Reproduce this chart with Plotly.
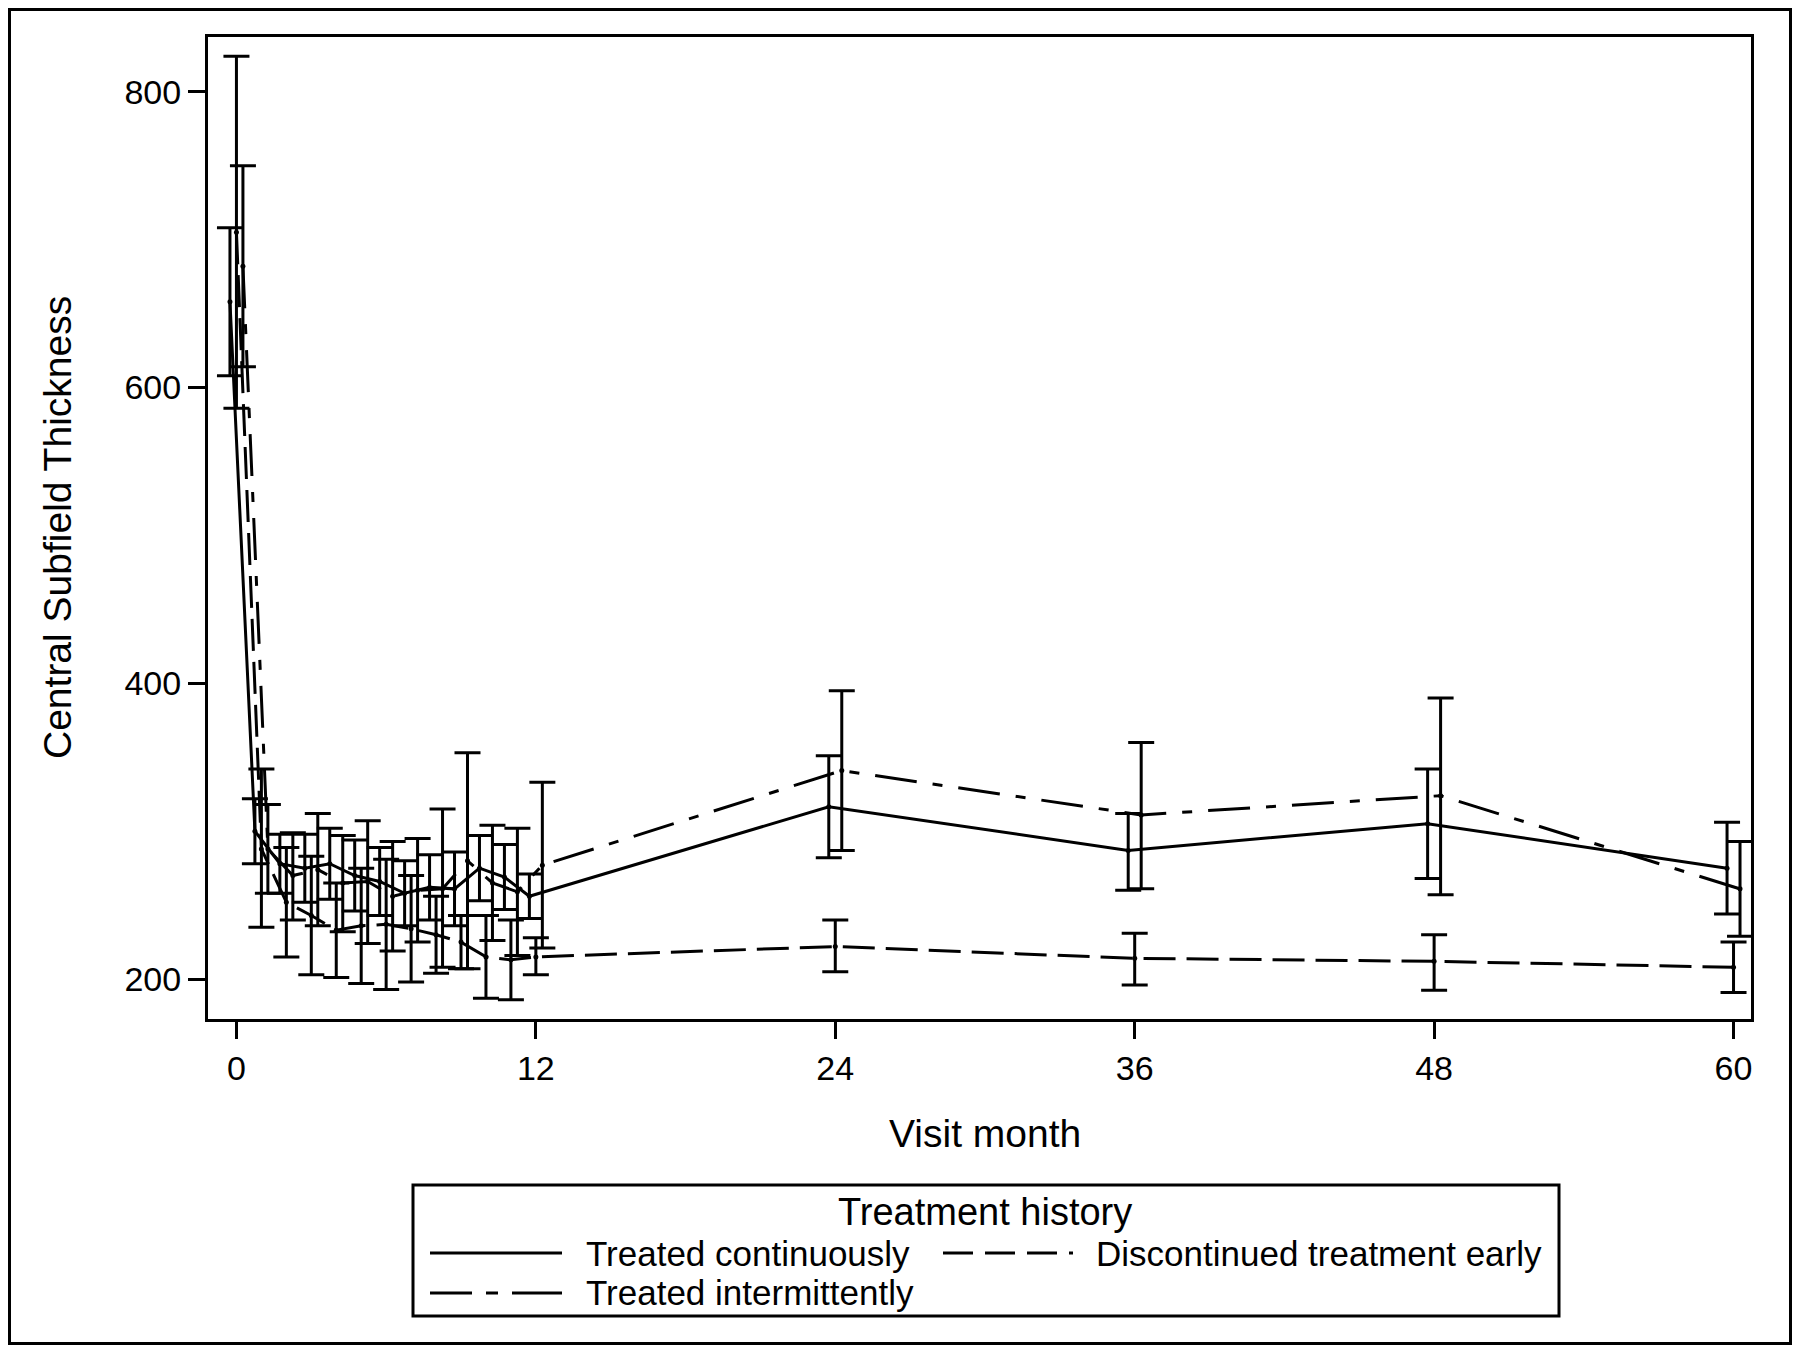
import numpy as np
import plotly.graph_objects as go

# ---------------- data ----------------
months = [0, 1, 2, 3, 4, 5, 6, 7, 8, 9, 10, 11, 12, 24, 36, 48, 60]

cont_mean = [658, 300, 278, 275, 278, 270, 266, 258, 262, 261, 275, 269, 256, 316.5, 287, 305, 275]
cont_lo   = [608, 278, 258, 252, 254, 246, 243, 236, 240, 236, 253, 247, 241, 282, 260, 268, 244]
cont_hi   = [708, 322, 298, 298, 302, 294, 289, 280, 284, 286, 297, 291, 271, 351, 312, 342, 306]

inter_mean = [682, 288, 270, 274, 265, 266, 256, 260, 261, 280, 265, 259, 277, 341, 311, 324, 261]
inter_lo   = [614, 258, 240, 236, 232, 224, 219, 225, 208, 207, 226, 216, 221, 287, 261, 257, 229]
inter_hi   = [750, 318, 299, 312, 297, 307, 293, 295, 315, 353, 304, 302, 333, 395, 360, 390, 293]

disc_mean = [705, 288, 252, 243, 233, 236, 237, 234, 230, 225, 215, 213, 215, 222, 214, 212, 208]
disc_lo   = [586, 235, 215, 203, 201, 197, 193, 198, 204, 207, 187, 186, 203, 205, 196, 192.5, 191]
disc_hi   = [824, 342, 289, 283, 265, 275, 281, 270, 256, 243, 243, 240, 228, 240, 231, 230, 225]

names = ["Treated continuously", "Discontinued treatment early", "Treated intermittently"]
x_ticks = [0, 12, 24, 36, 48, 60]
y_ticks = [200, 400, 600, 800]

# ---------------- styles ----------------
FONT = "Liberation Sans, Arial, Helvetica, sans-serif"
DASH_CONT = "solid"
DASH_DISC = "32px,11px"
DASH_INTER = "42px,16px,10px,16px"
LEG_DASH_DISC = "30px,12px,30px,12px,30px,12px,4px,12px"
LEG_DASH_INTER = "42px,14px,12px,14px,60px"

fig = go.Figure()

def add_series(mean, lo, hi, name, dash, offset):
    m = np.array(mean, dtype=float)
    x = np.array(months, dtype=float) + offset
    fig.add_trace(go.Scatter(
        x=x, y=m, name=name, mode="lines+markers",
        line=dict(color="black", width=3, dash=dash),
        marker=dict(color="black", size=5),
        error_y=dict(type="data", symmetric=False,
                     array=np.array(hi) - m, arrayminus=m - np.array(lo),
                     color="black", thickness=3, width=13),
        showlegend=False,
    ))

add_series(cont_mean, cont_lo, cont_hi, names[0], DASH_CONT, -0.26)
add_series(disc_mean, disc_lo, disc_hi, names[1], DASH_DISC, 0.0)
add_series(inter_mean, inter_lo, inter_hi, names[2], DASH_INTER, 0.26)

# page body has an 8px default margin; work in screen coords and shift
OFF = 8
W, H = 1800 - 2 * OFF, 1353 - 2 * OFF
# plot area in screen coords: left 208, right 1751, top 37, bottom 1019
L = 208 - OFF
T = 37 - OFF
R = W - (1751 - OFF)
B = H - (1019 - OFF)
pw, ph = W - L - R, H - T - B

def px(xs):
    return (xs - OFF - L) / pw

def py(ys):
    return (H - B - (ys - OFF)) / ph

shapes = []
# outer border
shapes.append(dict(type="rect", xref="paper", yref="paper",
                   x0=px(OFF + 1.5), x1=px(OFF + W - 1.5), y0=py(OFF + H - 1.5), y1=py(OFF + 1.5),
                   line=dict(color="black", width=3)))
# legend box
shapes.append(dict(type="rect", xref="paper", yref="paper",
                   x0=px(413), x1=px(1559), y0=py(1316), y1=py(1185),
                   line=dict(color="black", width=3), fillcolor="white"))

annotations = []
annotations.append(dict(text="Treatment history", xref="paper", yref="paper",
                        x=px(985), y=py(1212), showarrow=False,
                        xanchor="center", yanchor="middle",
                        font=dict(family=FONT, size=38, color="black")))

legend_items = [
    (names[0], DASH_CONT, 430, 562, 584, 1253),
    (names[1], LEG_DASH_DISC, 943, 1073, 1094, 1253),
    (names[2], LEG_DASH_INTER, 430, 562, 584, 1293),
]
for label, dash, lx0, lx1, tx, ly in legend_items:
    shapes.append(dict(type="line", xref="paper", yref="paper",
                       x0=px(lx0), x1=px(lx1), y0=py(ly), y1=py(ly),
                       line=dict(color="black", width=3, dash=dash)))
    annotations.append(dict(text=label, xref="paper", yref="paper",
                            x=px(tx), y=py(ly), showarrow=False,
                            xanchor="left", yanchor="middle",
                            font=dict(family=FONT, size=35, color="black")))

# axis titles
annotations.append(dict(text="Visit month", xref="paper", yref="paper",
                        x=px(985), y=py(1133), showarrow=False,
                        xanchor="center", yanchor="middle",
                        font=dict(family=FONT, size=39, color="black")))
annotations.append(dict(text="Central Subfield Thickness", xref="paper", yref="paper",
                        x=px(57), y=py(528), showarrow=False, textangle=-90,
                        xanchor="center", yanchor="middle",
                        font=dict(family=FONT, size=39, color="black")))

fig.update_layout(
    width=W, height=H,
    margin=dict(l=L, r=R, t=T, b=B, pad=0),
    paper_bgcolor="white", plot_bgcolor="white",
    font=dict(family=FONT, color="black"),
    shapes=shapes, annotations=annotations,
    showlegend=False,
)
fig.update_xaxes(range=[-1.14, 60.7], tickvals=x_ticks, ticktext=[str(v) for v in x_ticks],
                 ticks="outside", ticklen=17, tickwidth=2.5, tickcolor="black",
                 showline=True, linecolor="black", linewidth=3, mirror=True,
                 showgrid=False, zeroline=False,
                 tickfont=dict(family=FONT, size=34, color="black"))
fig.update_yaxes(range=[173, 837], tickvals=y_ticks, ticktext=[str(v) for v in y_ticks],
                 ticks="outside", ticklen=17, tickwidth=2.5, tickcolor="black",
                 showline=True, linecolor="black", linewidth=3, mirror=True,
                 showgrid=False, zeroline=False,
                 tickfont=dict(family=FONT, size=34, color="black"))

fig.write_html("out.html")
